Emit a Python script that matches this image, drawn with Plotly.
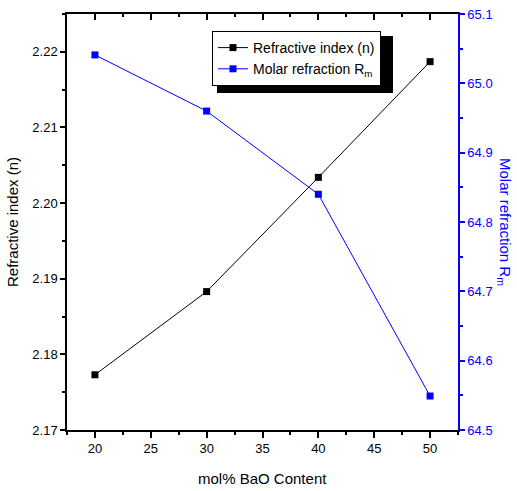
import plotly.graph_objects as go

bao = [20, 30, 40, 50]
refractive_index = [2.1773, 2.1883, 2.2034, 2.2187]
molar_refraction = [65.041, 64.960, 64.840, 64.549]

FONT = "Liberation Sans, Arial, sans-serif"
BLUE = "#0000ff"

fig = go.Figure()
fig.add_trace(go.Scatter(
    x=bao, y=refractive_index, mode="lines+markers",
    name="Refractive index (n)",
    line=dict(color="black", width=1),
    marker=dict(symbol="square", size=7, color="black"),
    yaxis="y"))
fig.add_trace(go.Scatter(
    x=bao, y=molar_refraction, mode="lines+markers",
    name="Molar refraction R<sub>m</sub>",
    line=dict(color=BLUE, width=1),
    marker=dict(symbol="square", size=7, color=BLUE),
    yaxis="y2"))
# invisible trace to drive the top mirror axis
fig.add_trace(go.Scatter(x=[bao[0]], y=[refractive_index[0]], xaxis="x2",
                         mode="markers", marker=dict(opacity=0),
                         showlegend=False, hoverinfo="skip"))

def px_x(p):
    return (p - 67) / 391

def px_y(p):
    return 1 - (p - 14) / 416

fig.update_layout(
    width=517, height=491,
    margin=dict(l=67, r=59, t=14, b=61, autoexpand=False),
    paper_bgcolor="white", plot_bgcolor="white",
    font=dict(family=FONT, size=13, color="black"),
    xaxis=dict(range=[17.5, 52.5], dtick=5, tick0=20, automargin=False,
               showgrid=False, zeroline=False,
               showline=True, linecolor="black", linewidth=1.5,
               ticks="outside", ticklen=6, tickwidth=1.5, tickcolor="black",
               minor=dict(ticks="outside", ticklen=3, dtick=2.5, tickcolor="black", tickwidth=1.5),
               tickfont=dict(size=13)),
    xaxis2=dict(range=[17.5, 52.5], dtick=5, tick0=20, overlaying="x", side="top",
                automargin=False,
                showgrid=False, zeroline=False, showticklabels=False,
                showline=True, linecolor="black", linewidth=1.5,
                ticks="inside", ticklen=6, tickwidth=1.5, tickcolor="black",
                minor=dict(ticks="inside", ticklen=3, dtick=2.5, tickcolor="black", tickwidth=1.5)),
    yaxis=dict(range=[2.17, 2.225], dtick=0.01, tick0=2.17, tickformat=".2f",
               automargin=False,
               showgrid=False, zeroline=False,
               showline=True, linecolor="black", linewidth=1.5,
               ticks="outside", ticklen=5, tickwidth=1.5, tickcolor="black",
               minor=dict(ticks="outside", ticklen=3, dtick=0.005, tickcolor="black", tickwidth=1.5),
               tickfont=dict(size=13),
               title=dict(text="Refractive index (n)", font=dict(size=15), standoff=10)),
    yaxis2=dict(range=[64.5, 65.1], dtick=0.1, tick0=64.5, tickformat=".1f",
                overlaying="y", side="right", anchor="x", automargin=False,
                showgrid=False, zeroline=False,
                showline=True, linecolor=BLUE, linewidth=1.5,
                ticks="outside", ticklen=5, tickwidth=1.5, tickcolor=BLUE,
                minor=dict(ticks="outside", ticklen=3, dtick=0.05, tickcolor=BLUE, tickwidth=1.5),
                tickfont=dict(size=13, color=BLUE)),
    legend=dict(x=px_x(212), y=px_y(31), xanchor="left", yanchor="top",
                bgcolor="white", bordercolor="black", borderwidth=1,
                font=dict(size=14, family=FONT),
                itemwidth=30, tracegroupgap=0),
    showlegend=True,
    annotations=[
        dict(text="Molar refraction R<sub>m</sub>", textangle=90,
             xref="paper", yref="paper", x=px_x(505), y=0.5,
             xanchor="center", yanchor="middle", showarrow=False,
             font=dict(size=15, color=BLUE, family=FONT)),
        dict(text="mol% BaO Content",
             xref="paper", yref="paper", x=0.5, y=px_y(478),
             xanchor="center", yanchor="middle", showarrow=False,
             font=dict(size=15, color="black", family=FONT)),
    ],
    shapes=[dict(type="rect", xref="paper", yref="paper",
                 x0=px_x(217), x1=px_x(393),
                 y0=px_y(93), y1=px_y(36),
                 fillcolor="black", line=dict(width=0), layer="below")],
)

fig.write_html("out.html")
